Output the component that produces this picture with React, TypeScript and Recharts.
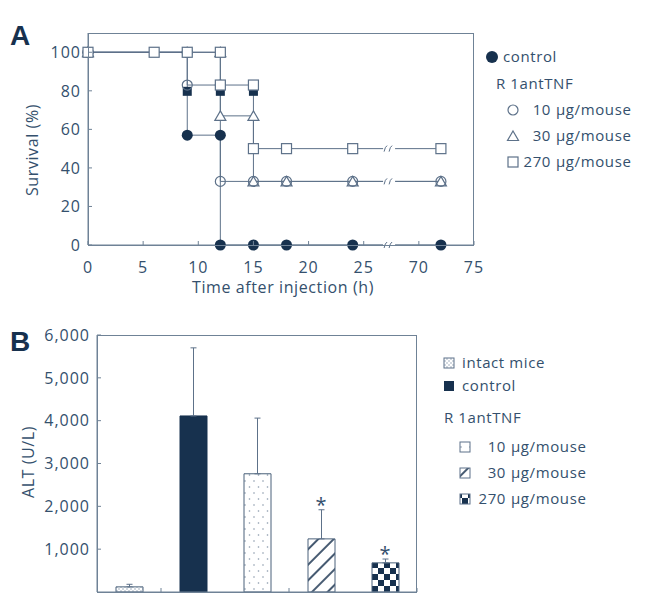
import React from "react";
import { LineChart, Line, ComposedChart, Bar, Cell, XAxis, YAxis, ErrorBar, ReferenceDot } from "recharts";

const FONT = "'Open Sans', sans-serif";
const INK = "#34506d";
const NAVY = "#17314e";
const LINE = "#5d7189";
const FRAME = "#6f8296";

// ---- panel A: survival after injection ----
const timeTicks = [0, 5, 10, 15, 20, 25, 70, 75];
const survivalTicks = [0, 20, 40, 60, 80, 100];
const controlSurv = [[0, 100], [9, 100], [9, 57], [12, 57], [12, 0], [15, 0], [18, 0], [24, 0], [72, 0]];
const dose10Surv = [[0, 100], [9, 100], [9, 83], [12, 83], [12, 33], [15, 33], [18, 33], [24, 33], [72, 33]];
const dose30Surv = [[0, 100], [12, 100], [12, 67], [15, 67], [15, 33], [18, 33], [24, 33], [72, 33]];
const dose270Surv = [[0, 100], [6, 100], [9, 100], [12, 100], [12, 83], [15, 83], [15, 50], [18, 50], [24, 50], [72, 50]];
const hiddenMarks = [[9, 80], [12, 80], [15, 80]];
const breakLevels = [50, 33, 0];
const BREAK_POS = 27.3; // gap between 25 h and 70 h on the axis
const SURV_MAX = 110;
const TIME_MAX = 35;

// ---- panel B: serum ALT ----
const groups = ["intact mice", "control", "10 μg/mouse", "30 μg/mouse", "270 μg/mouse"];
const altMean = [120, 4110, 2760, 1240, 680];
const altSd = [60, 1590, 1300, 680, 90];
const starY = [null, null, null, 2200, 1050];
const altTicks = [0, 1000, 2000, 3000, 4000, 5000, 6000];
const ALT_MAX = 6000;

// page layout: plot boxes (page px) and where each chart sits
const W = 658;
const A_TOP = 0, A_H = 300;
const B_TOP = 310, B_H = 289;
const boxA = { left: 88, top: 33, right: 474, bottom: 245 };
const boxB = { left: 97, top: 335, right: 417, bottom: 592 };
const Y_AXIS_W = 60, XA_H = 40, XB_H = 5;

// hours >= 70 are drawn after the axis break
const toAxis = (h: number) => (h >= 70 ? h - 40 : h);
const fromAxis = (v: number) => (v >= 30 ? v + 40 : v);
const series = (pts: number[][]) => pts.map(([h, v]) => ({ x: toAxis(h), y: v }));

const altData = groups.map((g, i) => ({ g, alt: altMean[i], err: [0, altSd[i]] }));
const barFills = ["url(#pIntact)", NAVY, "url(#pDots)", "url(#pHatch)", "url(#pCheck)"];

const tickText = { fontFamily: FONT, fontSize: 16, fill: INK };

function BottomTick({ x, y, payload }: any) {
  return (
    <g>
      <line x1={x} x2={x} y1={y} y2={y - 4} stroke={FRAME} />
      <text x={x} y={y + 28} textAnchor="middle" letterSpacing={1} {...tickText}>
        {fromAxis(payload.value)}
      </text>
    </g>
  );
}

function LeftTick({ x, y, payload }: any) {
  return (
    <g>
      <line x1={x} x2={x + 4} y1={y} y2={y} stroke={FRAME} />
      <text x={x - 7} y={y} dy="0.36em" textAnchor="end" letterSpacing={1} {...tickText}>
        {payload.value.toLocaleString("en-US")}
      </text>
    </g>
  );
}

const BAND = (boxB.right - boxB.left) / groups.length;
function GapTick({ x, y, index }: any) {
  if (index >= groups.length - 1) return <g />;
  return <line x1={x + BAND / 2} x2={x + BAND / 2} y1={y} y2={y - 4} stroke={FRAME} />;
}

const openSquare = (p: any) => (
  <rect key={`sq${p.index}`} x={p.cx - 5} y={p.cy - 5} width={10} height={10} fill="#fff" stroke={LINE} strokeWidth={1.2} />
);
const openCircle = (p: any) => (
  <circle key={`oc${p.index}`} cx={p.cx} cy={p.cy} r={5} fill="none" stroke={LINE} strokeWidth={1.2} />
);
const openTriangle = (p: any) => (
  <path key={`tr${p.index}`} d={`M${p.cx},${p.cy - 5} L${p.cx + 5.5},${p.cy + 4.5} L${p.cx - 5.5},${p.cy + 4.5} Z`} fill="#fff" stroke={LINE} strokeWidth={1.2} />
);
const filledCircle = (p: any) => <circle key={`fc${p.index}`} cx={p.cx} cy={p.cy} r={5.5} fill={NAVY} />;
const filledSquare = (p: any) => <rect key={`fs${p.index}`} x={p.cx - 4.5} y={p.cy - 4} width={9} height={9} fill={NAVY} />;

const breakMark = (p: any) => (
  <g>
    <rect x={p.cx - 6} y={p.cy - 6} width={12} height={12} fill="#fff" />
    <path d={`M${p.cx - 5},${p.cy + 3} q1,-5 3,-6 M${p.cx},${p.cy + 3} q1,-5 3,-6`} fill="none" stroke={LINE} strokeWidth={1} />
  </g>
);

const starMark = (p: any) => (
  <text x={p.cx} y={p.cy} dy="0.7em" textAnchor="middle" fontFamily={FONT} fontSize={20} fill={INK}>*</text>
);

function Patterns() {
  return (
    <svg width={0} height={0} style={{ position: "absolute" }}>
      <defs>
        <pattern id="pIntact" width={4} height={4} patternUnits="userSpaceOnUse">
          <rect width={4} height={4} fill="#fff" />
          <circle cx={1} cy={1} r={0.7} fill="#8797aa" />
          <circle cx={3} cy={3} r={0.7} fill="#8797aa" />
        </pattern>
        <pattern id="pDots" width={9} height={12} patternUnits="userSpaceOnUse">
          <rect width={9} height={12} fill="#fff" />
          <circle cx={2} cy={3} r={0.8} fill="#8797aa" />
          <circle cx={6.5} cy={9} r={0.8} fill="#8797aa" />
        </pattern>
        <pattern id="pHatch" width={11} height={11} patternUnits="userSpaceOnUse" patternTransform="rotate(45)">
          <rect width={11} height={11} fill="#fff" />
          <line x1={2} x2={2} y1={0} y2={11} stroke={NAVY} strokeWidth={1.6} />
        </pattern>
        <pattern id="pCheck" width={12} height={12} patternUnits="userSpaceOnUse">
          <rect width={12} height={12} fill="#fff" />
          <rect width={6} height={6} fill={NAVY} />
          <rect x={6} y={6} width={6} height={6} fill={NAVY} />
        </pattern>
      </defs>
    </svg>
  );
}

const legText = { fontFamily: FONT, fontSize: 15, fill: INK, letterSpacing: 0.6 };

function PlotFrame({ box }: { box: typeof boxA }) {
  return (
    <rect x={box.left + 0.5} y={box.top + 0.5} width={box.right - box.left - 1} height={box.bottom - box.top}
      fill="none" stroke={FRAME} strokeWidth={1} />
  );
}

function Overlay() {
  const doseRowsA = [
    { n: "10", y: 110, icon: <circle cx={513} cy={110} r={5} fill="none" stroke={LINE} strokeWidth={1.2} /> },
    { n: "30", y: 136, icon: <path d="M513,131 L518.5,140.5 L507.5,140.5 Z" fill="none" stroke={LINE} strokeWidth={1.2} /> },
    { n: "270", y: 162, icon: <rect x={508} y={157} width={10} height={10} fill="none" stroke={LINE} strokeWidth={1.2} /> },
  ];
  const doseRowsB = [
    { n: "10", y: 447, fill: "url(#pDots)" },
    { n: "30", y: 473, fill: "url(#pHatch)" },
    { n: "270", y: 499, fill: "url(#pCheck)" },
  ];
  return (
    <svg width={W} height={599} style={{ position: "absolute", left: 0, top: 0, pointerEvents: "none" }}>
      <PlotFrame box={boxA} />
      <PlotFrame box={boxB} />
      <text x={10} y={45} fontFamily="'Liberation Sans', Arial, sans-serif" fontWeight="bold" fontSize={28} fill={NAVY}>A</text>
      <text x={10} y={351} fontFamily="'Liberation Sans', Arial, sans-serif" fontWeight="bold" fontSize={28} fill={NAVY}>B</text>
      <text transform="translate(38,150) rotate(-90)" textAnchor="middle" {...legText} fontSize={16}>Survival (%)</text>
      <text x={283} y={293} textAnchor="middle" {...legText} fontSize={16}>Time after injection (h)</text>
      <text transform="translate(34,462) rotate(-90)" textAnchor="middle" {...legText} fontSize={16}>ALT (U/L)</text>

      <circle cx={492} cy={57} r={6} fill={NAVY} />
      <text x={503} y={57} dy="0.36em" {...legText}>control</text>
      <text x={496} y={84} dy="0.36em" {...legText}>R 1antTNF</text>
      {doseRowsA.map((r) => (
        <g key={r.n}>
          {r.icon}
          <text x={551} y={r.y} dy="0.36em" textAnchor="end" {...legText}>{r.n}</text>
          <text x={556} y={r.y} dy="0.36em" {...legText}>μg/mouse</text>
        </g>
      ))}

      <rect x={444} y={358} width={10} height={10} fill="url(#pIntact)" stroke={LINE} />
      <text x={462} y={363} dy="0.36em" {...legText}>intact mice</text>
      <rect x={444} y={381} width={10} height={10} fill={NAVY} />
      <text x={462} y={386} dy="0.36em" {...legText}>control</text>
      <text x={444} y={418} dy="0.36em" {...legText}>R 1antTNF</text>
      {doseRowsB.map((r) => (
        <g key={r.n}>
          <rect x={460} y={r.y - 5} width={10} height={10} fill={r.fill} stroke={LINE} />
          <text x={506} y={r.y} dy="0.36em" textAnchor="end" {...legText}>{r.n}</text>
          <text x={511} y={r.y} dy="0.36em" {...legText}>μg/mouse</text>
        </g>
      ))}
    </svg>
  );
}

const marginA = {
  top: boxA.top - A_TOP,
  right: W - boxA.right,
  bottom: A_TOP + A_H - boxA.bottom - XA_H,
  left: boxA.left - Y_AXIS_W,
};
const marginB = {
  top: boxB.top - B_TOP,
  right: W - boxB.right,
  bottom: B_TOP + B_H - boxB.bottom - XB_H,
  left: boxB.left - Y_AXIS_W,
};

export default function App() {
  return (
    <div style={{ position: "absolute", left: 0, top: 0, width: W, height: 599, background: "#fff" }}>
      <Patterns />
      <div style={{ position: "absolute", left: 0, top: A_TOP }}>
        <LineChart width={W} height={A_H} margin={marginA}>
          <XAxis type="number" dataKey="x" domain={[0, TIME_MAX]} ticks={timeTicks.map(toAxis)} height={XA_H}
            axisLine={{ stroke: FRAME }} tickLine={false} tickSize={0} tickMargin={0} tick={<BottomTick />} />
          <YAxis type="number" domain={[0, SURV_MAX]} ticks={survivalTicks} width={Y_AXIS_W}
            axisLine={{ stroke: FRAME }} tickLine={false} tickSize={0} tickMargin={0} tick={<LeftTick />} />
          <Line data={series(hiddenMarks)} dataKey="y" stroke="none" dot={filledSquare} isAnimationActive={false} />
          <Line data={series(controlSurv)} dataKey="y" type="linear" stroke={LINE} strokeWidth={1} dot={filledCircle} isAnimationActive={false} />
          <Line data={series(dose30Surv)} dataKey="y" type="linear" stroke={LINE} strokeWidth={1} dot={openTriangle} isAnimationActive={false} />
          <Line data={series(dose10Surv)} dataKey="y" type="linear" stroke={LINE} strokeWidth={1} dot={openCircle} isAnimationActive={false} />
          <Line data={series(dose270Surv)} dataKey="y" type="linear" stroke={LINE} strokeWidth={1} dot={openSquare} isAnimationActive={false} />
          {breakLevels.map((lv) => (
            <ReferenceDot key={lv} x={BREAK_POS} y={lv} shape={breakMark} />
          ))}
        </LineChart>
      </div>
      <div style={{ position: "absolute", left: 0, top: B_TOP }}>
        <ComposedChart width={W} height={B_H} data={altData} margin={marginB} barSize={27}>
          <XAxis dataKey="g" height={XB_H} axisLine={{ stroke: FRAME }} tickLine={false} tickSize={0} tickMargin={0} tick={<GapTick />} />
          <YAxis type="number" domain={[0, ALT_MAX]} ticks={altTicks} width={Y_AXIS_W}
            axisLine={{ stroke: FRAME }} tickLine={false} tickSize={0} tickMargin={0} tick={<LeftTick />} />
          <Bar dataKey="alt" stroke="#4a617a" strokeWidth={1} isAnimationActive={false}>
            {altData.map((d, i) => (
              <Cell key={d.g} fill={barFills[i]} stroke={i === 1 ? NAVY : "#4a617a"} />
            ))}
            <ErrorBar dataKey="err" direction="y" width={3} stroke={LINE} strokeWidth={1} />
          </Bar>
          {groups.map((g, i) =>
            starY[i] == null ? null : <ReferenceDot key={g} x={g} y={starY[i] as number} shape={starMark} />
          )}
        </ComposedChart>
      </div>
      <Overlay />
    </div>
  );
}
